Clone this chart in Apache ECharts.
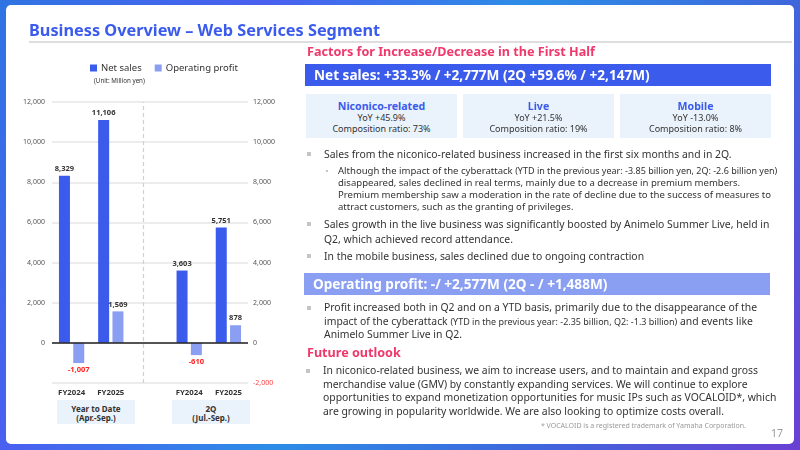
<!DOCTYPE html>
<html>
<head>
<meta charset="utf-8">
<script src="https://cdn.jsdelivr.net/npm/echarts@6.0.0/dist/echarts.min.js"></script>
<style>
  body { margin: 0; width: 800px; height: 450px; overflow: hidden; position: relative;
         background: linear-gradient(120deg, #2f74e2 0%, #4a5ff0 25%, #2c8de6 50%, #3f66dc 75%, #6a3fd4 100%);
         font-family: 'Noto Sans', sans-serif; }
  #card { position: absolute; left: 6px; top: 5px; width: 788px; height: 439px; background: #fff; border-radius: 5px; }
  #chart { position: absolute; left: 0; top: 0; width: 800px; height: 450px; }
  .t { position: absolute; white-space: nowrap; color: #333; }
  .pink { color: #f0386b; font-weight: bold; font-size: 12.6px; line-height: 18px; }
  .bar { position: absolute; color: #fff; font-weight: bold; font-size: 13.6px; line-height: 22px; height: 22px;
         padding-left: 9px; box-sizing: border-box; white-space: nowrap; }
  .box { position: absolute; top: 94px; width: 151px; height: 44px; background: #eaf2fb; text-align: center;
         padding-top: 6px; box-sizing: border-box; font-size: 9px; line-height: 10.5px; color: #333; }
  .box b { display: block; color: #3b5bec; font-size: 10.6px; line-height: 13px; }
  .b { font-size: 10.4px; }
  .m { position: absolute; left: -17px; width: 4px; height: 4px; background: #c4c4c4; }
  .sub { font-size: 9.55px; line-height: 12px; }
  .sub small, .b small { font-size: 9px; }
  .grp { position: absolute; top: 400px; width: 78px; height: 24px; background: #eaf2fb; text-align: center;
         font-weight: bold; font-size: 8px; line-height: 9px; padding-top: 3.5px; box-sizing: border-box; color: #333; }
</style>
</head>
<body>
<div id="card"></div>
<div id="chart"></div>

<div class="t" style="left:29px; top:20px; font-size:16.3px; line-height:20px; font-weight:bold; color:#3b5bec;">Business Overview – Web Services Segment</div>
<div style="position:absolute; left:29px; top:41px; width:763px; height:2px; background:#dedede;"></div>

<div class="t pink" style="left:307px; top:43px;">Factors for Increase/Decrease in the First Half</div>
<div class="bar" style="left:305px; top:64px; width:466px; background:#3b5bec;">Net sales: +33.3% / +2,777M (2Q +59.6% / +2,147M)</div>

<div class="box" style="left:306px;"><b>Niconico-related</b>YoY +45.9%<br>Composition ratio: 73%</div>
<div class="box" style="left:463px;"><b>Live</b>YoY +21.5%<br>Composition ratio: 19%</div>
<div class="box" style="left:620px;"><b>Mobile</b>YoY -13.0%<br>Composition ratio: 8%</div>

<div class="t b" style="left:324px; top:147px; line-height:14px;"><span class="m" style="top:5px;"></span>Sales from the niconico-related business increased in the first six months and in 2Q.</div>
<div class="t sub" style="left:338px; top:165px;"><span class="m" style="left:-12px; top:5px; width:2px; height:2px;"></span>Although the impact of the cyberattack <small>(YTD in the previous year: -3.85 billion yen, 2Q: -2.6 billion yen)</small><br>disappeared, sales declined in real terms, mainly due to a decrease in premium members.<br>Premium membership saw a moderation in the rate of decline due to the success of measures to<br>attract customers, such as the granting of privileges.</div>
<div class="t b" style="left:324px; top:217px; line-height:14.5px;"><span class="m" style="top:5px;"></span>Sales growth in the live business was significantly boosted by Animelo Summer Live, held in<br>Q2, which achieved record attendance.</div>
<div class="t b" style="left:324px; top:249px; line-height:14px;"><span class="m" style="top:5px;"></span>In the mobile business, sales declined due to ongoing contraction</div>

<div class="bar" style="left:304px; top:273px; width:466px; background:#8a9ff2;">Operating profit: -/ +2,577M (2Q - / +1,488M)</div>
<div class="t b" style="left:324px; top:301px; line-height:13.7px;"><span class="m" style="top:5px;"></span>Profit increased both in Q2 and on a YTD basis, primarily due to the disappearance of the<br>impact of the cyberattack <small>(YTD in the previous year: -2.35 billion, Q2: -1.3 billion)</small> and events like<br>Animelo Summer Live in Q2.</div>

<div class="t pink" style="left:307px; top:344px;">Future outlook</div>
<div class="t b" style="left:323px; top:364px; line-height:13.7px;"><span class="m" style="top:5px;"></span>In niconico-related business, we aim to increase users, and to maintain and expand gross<br>merchandise value (GMV) by constantly expanding services. We will continue to explore<br>opportunities to expand monetization opportunities for music IPs such as VOCALOID*, which<br>are growing in popularity worldwide. We are also looking to optimize costs overall.</div>
<div class="t" style="right:54px; top:421px; font-size:7px; line-height:9px; color:#999;">* VOCALOID is a registered trademark of Yamaha Corporation.</div>
<div class="t" style="left:771px; top:426px; font-size:10.5px; line-height:14px; color:#999;">17</div>

<div class="grp" style="left:57px;">Year to Date<br>(Apr.-Sep.)</div>
<div class="grp" style="left:172px;">2Q<br>(Jul.-Sep.)</div>

<script>
// categories (empty middle slot separates YTD and 2Q)
const categories = ['FY2024', 'FY2025', '', 'FY2024', 'FY2025'];
const netSales = [8329, 11106, '-', 3603, 5751];
const opProfit = [-1007, 1569, '-', -610, 878];
const yTicks = { min: -2000, max: 12000, interval: 2000 };

const BLUE = '#3b5bec';
const LIGHT = '#8a9ff2';
const fmt = v => Number(v).toLocaleString('en-US');

const chart = echarts.init(document.getElementById('chart'));
chart.setOption({
    animation: false,
    textStyle: { fontFamily: 'Noto Sans' },
    title: {
        text: '(Unit: Million yen)',
        left: 89,
        top: 73,
        textStyle: { fontSize: 6.2, fontWeight: 'normal', color: '#333' }
    },
    legend: {
        left: 85,
        top: 58,
        itemWidth: 7,
        itemHeight: 7,
        itemGap: 13,
        icon: 'rect',
        textStyle: { fontSize: 9.5, color: '#333', padding: [0, 0, 0, -1] },
        data: ['Net sales', 'Operating profit']
    },
    grid: { left: 52, right: 552, top: 102, bottom: 67 },
    xAxis: {
        type: 'category',
        data: categories,
        axisLine: { show: false, onZero: false },
        axisTick: { show: false },
        axisLabel: { margin: 6, fontSize: 7.8, fontWeight: 'bold', color: '#333' }
    },
    yAxis: [{
        type: 'value',
        min: yTicks.min, max: yTicks.max, interval: yTicks.interval,
        axisLine: { show: false },
        axisTick: { show: false },
        splitLine: { lineStyle: { color: '#e6e6e6', width: 1.5 } },
        axisLabel: {
            margin: 7, fontSize: 7, color: '#555',
            formatter: v => v < 0 ? '' : fmt(v)
        }
    }, {
        type: 'value',
        min: yTicks.min, max: yTicks.max, interval: yTicks.interval,
        axisLine: { show: false },
        axisTick: { show: false },
        splitLine: { show: false },
        axisLabel: {
            margin: 5, fontSize: 7,
            color: v => v < 0 ? '#ff4040' : '#555',
            formatter: v => fmt(v)
        }
    }],
    series: [{
        name: 'Net sales',
        type: 'bar',
        data: netSales,
        barWidth: 11,
        barGap: '30%',
        itemStyle: { color: BLUE },
        label: {
            show: true, position: 'top', distance: 3,
            fontSize: 7.5, fontWeight: 'bold', color: '#333',
            formatter: p => fmt(p.value)
        },
        markLine: {
            silent: true,
            symbol: 'none',
            label: { show: false },
            data: [
                { yAxis: 0, lineStyle: { color: '#222', width: 1.5, type: 'solid' } },
                { xAxis: 2, lineStyle: { color: '#d0d0d0', width: 1.2, type: [4, 3] } }
            ]
        }
    }, {
        name: 'Operating profit',
        type: 'bar',
        data: opProfit.map(v => v === '-' ? v : {
            value: v,
            label: v < 0 ? { position: 'bottom', color: '#ff2020' } : { position: 'top', color: '#333' }
        }),
        barWidth: 11,
        itemStyle: { color: LIGHT },
        label: {
            show: true, distance: 3,
            fontSize: 7.5, fontWeight: 'bold',
            formatter: p => fmt(p.value)
        }
    }]
});
</script>
</body>
</html>
